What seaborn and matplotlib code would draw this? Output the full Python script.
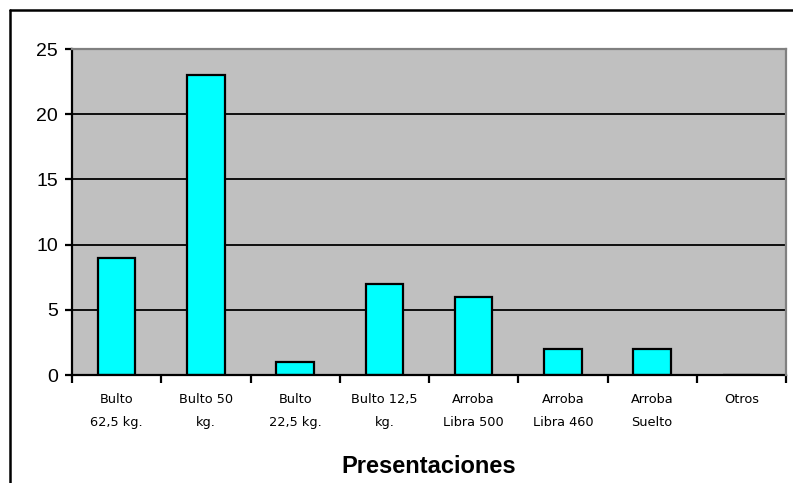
import matplotlib
matplotlib.use("Agg")
import matplotlib.pyplot as plt
from matplotlib.lines import Line2D
import seaborn as sns
import pandas as pd

categorias = ["Bulto\n62,5 kg.", "Bulto 50\nkg.", "Bulto\n22,5 kg.", "Bulto 12,5\nkg.",
              "Arroba\nLibra 500", "Arroba\nLibra 460", "Arroba\nSuelto", "Otros"]
valores = [9, 23, 1, 7, 6, 2, 2, 0]
yticks = [0, 5, 10, 15, 20, 25]

sns.set_theme(style="white")
plt.rcParams["font.family"] = ["Liberation Sans", "DejaVu Sans"]
plt.rcParams["text.color"] = "black"
plt.rcParams["xtick.color"] = "black"
plt.rcParams["ytick.color"] = "black"
plt.rcParams["axes.labelcolor"] = "black"

df = pd.DataFrame({"categoria": categorias, "valor": valores})

fig = plt.figure(figsize=(7.93, 4.83), dpi=100)
fig.patch.set_facecolor("white")
ax = fig.add_axes([72 / 793, 1 - 375 / 483, (786 - 72) / 793, (375 - 49) / 483])
ax.set_facecolor("#C0C0C0")

sns.barplot(data=df, x="categoria", y="valor", ax=ax, color="#00FFFF",
            saturation=1, width=0.42, edgecolor="black", linewidth=1.6, zorder=2)

ax.set_xlim(-0.5, len(categorias) - 0.5)
ax.set_ylim(0, 25)
ax.set_yticks(yticks)
ax.set_yticklabels([str(v) for v in yticks], fontsize=14, color="black")
ax.yaxis.grid(True, color="black", linewidth=1.3)
ax.set_axisbelow(True)

# category boundaries carry the tick marks, centres carry the labels
ax.set_xticks([i - 0.5 for i in range(len(categorias) + 1)])
ax.set_xticklabels([])
ax.set_xticks(range(len(categorias)), minor=True)
ax.set_xticklabels(categorias, minor=True, fontsize=9.3, color="black",
                   family=["DejaVu Sans"], linespacing=2.0)
ax.tick_params(axis="x", which="major", length=6, width=1.6, color="black",
               direction="out", bottom=True)
ax.tick_params(axis="x", which="minor", length=0, pad=13)
ax.tick_params(axis="y", length=5, width=1.6, color="black", direction="out",
               left=True, pad=5)

for side in ("left", "bottom"):
    ax.spines[side].set_color("black")
    ax.spines[side].set_linewidth(1.6)
for side in ("top", "right"):
    ax.spines[side].set_color("#808080")
    ax.spines[side].set_linewidth(1.6)
    ax.spines[side].set_zorder(3)

ax.set_xlabel("Presentaciones", fontsize=17, fontweight="bold", color="black",
              labelpad=19)
ax.set_ylabel("")

# chart frame
fig.add_artist(Line2D([10 / 793, 10 / 793], [0, 1 - 10 / 483], color="black",
                      linewidth=1.8, transform=fig.transFigure))
fig.add_artist(Line2D([10 / 793, 1], [1 - 10 / 483, 1 - 10 / 483], color="black",
                      linewidth=1.8, transform=fig.transFigure))

fig.savefig("out.png", dpi=100)
